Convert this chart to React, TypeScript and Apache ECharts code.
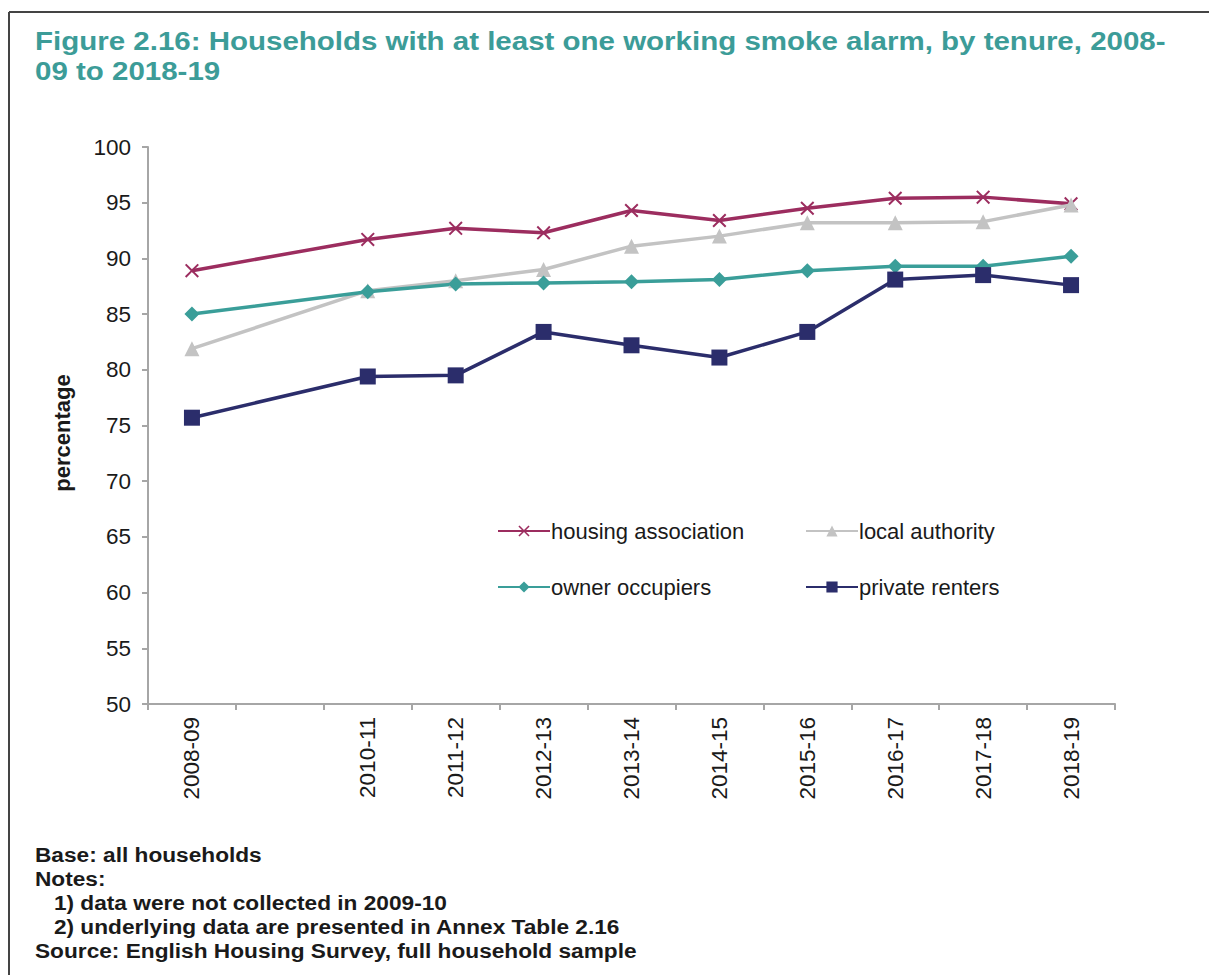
import React, { useEffect, useRef } from "react";
import * as echarts from "echarts";

const years = ["2008-09", "2009-10", "2010-11", "2011-12", "2012-13", "2013-14", "2014-15", "2015-16", "2016-17", "2017-18", "2018-19"];
const missingYears = ["2009-10"];

const housingAssociation = [88.9, null, 91.7, 92.7, 92.3, 94.3, 93.4, 94.5, 95.4, 95.5, 94.9];
const localAuthority = [81.9, null, 87.1, 88.0, 89.0, 91.1, 92.0, 93.2, 93.2, 93.3, 94.8];
const ownerOccupiers = [85.0, null, 87.0, 87.7, 87.8, 87.9, 88.1, 88.9, 89.3, 89.3, 90.2];
const privateRenters = [75.7, null, 79.4, 79.5, 83.4, 82.2, 81.1, 83.4, 88.1, 88.5, 87.6];

const seriesNames = ["housing association", "local authority", "owner occupiers", "private renters"];

const titleLines = [
  "Figure 2.16: Households with at least one working smoke alarm, by tenure, 2008-",
  "09 to 2018-19",
];
const footLines = [
  "Base: all households",
  "Notes:",
  "   1) data were not collected in 2009-10",
  "   2) underlying data are presented in Annex Table 2.16",
  "Source: English Housing Survey, full household sample",
];
const yAxisTitle = "percentage";

const FONT = "'Liberation Sans', Arial, sans-serif";
const crossPath = "path://M0,1L1,0L5,4L9,0L10,1L6,5L10,9L9,10L5,6L1,10L0,9L4,5Z";

export default function App() {
  const ref = useRef<HTMLDivElement>(null);
  useEffect(() => {
    if (!ref.current) return;
    const chart = echarts.init(ref.current, null, { renderer: "svg" });
    const colors = ["#9c2d5f", "#c3c3c3", "#3a9e99", "#2b2d6b"];
    const symbols = [crossPath, "triangle", "diamond", "rect"];
    const symbolSizes = [14, 15, 15, 16];
    const dataSets = [housingAssociation, localAuthority, ownerOccupiers, privateRenters];
    const legendPos = [
      { left: 497, top: 520 },
      { left: 805, top: 520 },
      { left: 497, top: 576 },
      { left: 805, top: 576 },
    ];
    chart.setOption({
      animation: false,
      backgroundColor: "#ffffff",
      legend: seriesNames.map((n, i) => ({
        data: [n],
        left: legendPos[i].left,
        top: legendPos[i].top,
        padding: 0,
        itemWidth: 52,
        itemHeight: 14,
        textStyle: { fontFamily: FONT, fontSize: 22, color: "#1a1a1a", padding: [0, 0, 0, -4] },
        selectedMode: false,
      })),
      grid: { left: 148, right: 94, top: 147, bottom: 271 },
      xAxis: {
        type: "category",
        data: years,
        boundaryGap: true,
        axisLine: { lineStyle: { color: "#a6a6a6", width: 2 } },
        axisTick: { show: true, alignWithLabel: false, length: 6, lineStyle: { color: "#a6a6a6", width: 2 } },
        axisLabel: {
          rotate: 90,
          margin: 13,
          interval: 0,
          fontFamily: FONT,
          fontSize: 22.5,
          color: "#1a1a1a",
          formatter: (v: string) => (missingYears.includes(v) ? "" : v),
        },
        splitLine: { show: false },
      },
      yAxis: {
        type: "value",
        min: 50,
        max: 100,
        interval: 5,
        axisLine: { show: true, lineStyle: { color: "#a6a6a6", width: 2 } },
        axisTick: { show: true, length: 6, lineStyle: { color: "#a6a6a6", width: 2 } },
        axisLabel: { margin: 17, fontFamily: FONT, fontSize: 22.5, color: "#1a1a1a" },
        splitLine: { show: false },
      },
      series: seriesNames.map((n, i) => ({
        name: n,
        type: "line",
        data: dataSets[i],
        connectNulls: true,
        symbol: symbols[i],
        symbolSize: symbolSizes[i],
        showAllSymbol: true,
        lineStyle: { color: colors[i], width: 3.5 },
        itemStyle: { color: colors[i] },
        emphasis: { disabled: true },
      })),
      graphic: [
        { type: "line", shape: { x1: 9, y1: 12, x2: 1209, y2: 12 }, style: { stroke: "#444", lineWidth: 2 } },
        { type: "line", shape: { x1: 9, y1: 12, x2: 9, y2: 975 }, style: { stroke: "#444", lineWidth: 2 } },
        ...titleLines.map((t, i) => ({
          type: "text",
          x: 35,
          y: 41 + i * 30,
          scaleX: 1.18,
          style: {
            text: t,
            font: `bold 25px ${FONT}`,
            fill: "#3c9c98",
            verticalAlign: "middle",
          },
        })),
        {
          type: "text",
          x: 62,
          y: 433,
          rotation: Math.PI / 2,
          style: {
            text: yAxisTitle,
            font: `bold 22px ${FONT}`,
            fill: "#1a1a1a",
            align: "center",
            verticalAlign: "middle",
          },
        },
        ...footLines.map((t, i) => ({
          type: "text",
          x: 35,
          y: 855 + i * 24,
          scaleX: 1.08,
          style: {
            text: t,
            font: `bold 21px ${FONT}`,
            fill: "#1a1a1a",
            verticalAlign: "middle",
          },
        })),
      ],
    });
    return () => chart.dispose();
  }, []);
  return <div ref={ref} style={{ position: "fixed", left: 0, top: 0, width: 1209, height: 975 }} />;
}
